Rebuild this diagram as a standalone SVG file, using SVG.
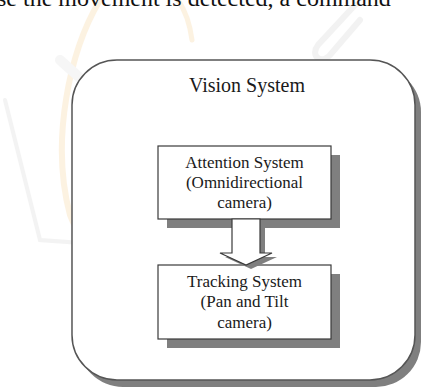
<svg xmlns="http://www.w3.org/2000/svg" width="423" height="389" viewBox="0 0 423 389">
<style>
.t{font-family:"Liberation Serif","Times New Roman",serif;fill:#1a1a1a;text-anchor:middle}
.box{fill:#fff;stroke:#3a3a3a;stroke-width:1.2}
.sh{fill:#7f7f7f}
.wm{fill:none;stroke-linecap:round}
</style>
<rect width="423" height="389" fill="#fff"/>
<g id="watermark" opacity="0.5">
<path class="wm" d="M100,0 C70,50 50,140 70,215 C85,255 120,270 150,265" stroke="#fbe6c4" stroke-width="6"/>
<path class="wm" d="M178,0 C185,10 190,25 192,40" stroke="#fbe6c4" stroke-width="5"/>
<path class="wm" d="M5,100 L40,240 L110,245" stroke="#e8e8e8" stroke-width="4"/>
<path class="wm" d="M60,60 L260,240" stroke="#eeeeee" stroke-width="10"/>
<path class="wm" d="M355,5 L318,45 C310,55 320,65 330,55 L360,20" stroke="#e6e6e6" stroke-width="6"/>
</g>
<text class="t" x="-3" y="6" style="text-anchor:start;font-size:24px;fill:#111">se the movement is detected, a command</text>
<g id="vision-system">
<rect class="sh" x="78" y="67" width="343" height="320" rx="45"/>
<rect x="72" y="60" width="343" height="320" rx="45" fill="#fff" stroke="#555" stroke-width="1.5"/>
<text class="t" x="247" y="92" font-size="20">Vision System</text>
</g>
<g id="attention-system">
<rect class="sh" x="167" y="155" width="173" height="73"/>
<rect class="box" x="158" y="146" width="173" height="73"/>
<text class="t" x="244.5" y="168" font-size="17">Attention System</text>
<text class="t" x="244.5" y="188" font-size="17">(Omnidirectional</text>
<text class="t" x="244.5" y="208" font-size="17">camera)</text>
</g>
<g id="tracking-system">
<rect class="sh" x="167" y="274" width="173" height="74"/>
<rect class="box" x="158" y="265" width="173" height="74"/>
<text class="t" x="244.5" y="287" font-size="17">Tracking System</text>
<text class="t" x="244.5" y="307" font-size="17">(Pan and Tilt</text>
<text class="t" x="244.5" y="328" font-size="17">camera)</text>
</g>
<g id="connectors">
<polygon class="sh" points="237,222 265,222 265,257 277,257 251,269 225,257 237,257"/>
<polygon fill="#fff" stroke="#3a3a3a" stroke-width="1.2" points="232,219 260,219 260,253 272,253 246,265 220,253 232,253"/>
</g>
</svg>
